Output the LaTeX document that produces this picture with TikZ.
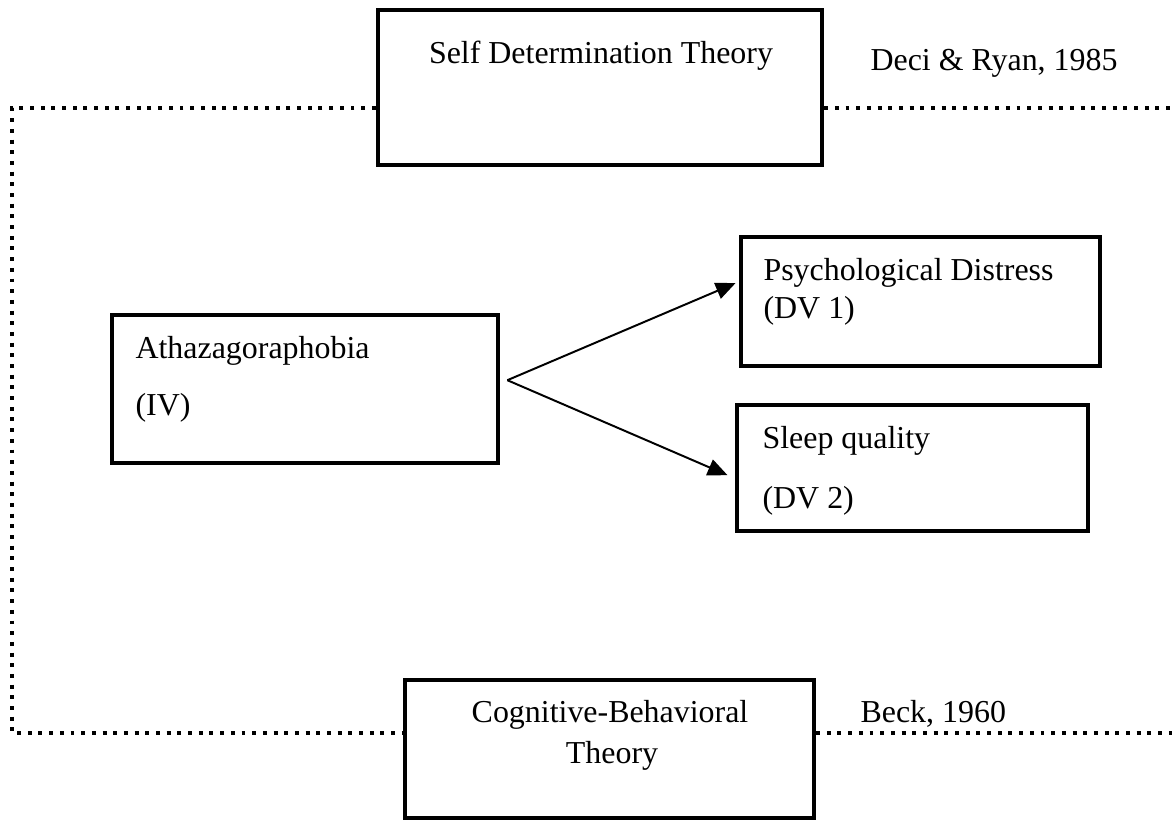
\documentclass[tikz,border=0pt]{standalone}
\usepackage{fontspec}
\setmainfont{Liberation Serif}
\usepackage{tikz}
\usetikzlibrary{arrows.meta}
\tikzstyle{theorybox} = [rectangle, draw=black, line width=1.5pt, inner sep=0pt]
\tikzstyle{txt} = [inner sep=0pt, font=\fontsize{11.35}{14}\selectfont]
\tikzstyle{arrow} = [line width=0.7pt, -{Triangle[length=7pt, width=6pt]}]
\tikzstyle{frame} = [line width=1.4pt, dash pattern=on 1.4pt off 2.4pt]

\begin{document}
\begin{tikzpicture}[x=0.0125cm, y=-0.0125cm]
    \fill[white] (0,0) rectangle (1172,820);
    \useasboundingbox (0,0) rectangle (1172,820);

    %Theory boxes
    \node (SDT) [theorybox, minimum width=5.55cm, minimum height=1.94cm] at (600,87.5) {};
    \node (CBT) [theorybox, minimum width=5.11cm, minimum height=1.725cm] at (609.5,749) {};

    %Variable boxes
    \node (IV) [theorybox, minimum width=4.825cm, minimum height=1.85cm] at (305,389) {};
    \node (DV1) [theorybox, minimum width=4.49cm, minimum height=1.61cm] at (920.5,301.5) {};
    \node (DV2) [theorybox, minimum width=4.39cm, minimum height=1.575cm] at (912.5,468) {};

    %Texts
    \node (SDTtext) [txt, anchor=base] at (601,63) {Self Determination Theory};
    \node (SDTref) [txt, anchor=base west] at (870,70) {Deci \& Ryan, 1985};
    \node (CBTtext) [txt, anchor=base] at (610,722) {Cognitive-Behavioral};
    \node (CBTtext2) [txt, anchor=base] at (612,763) {Theory};
    \node (CBTref) [txt, anchor=base west] at (860,722) {Beck, 1960};
    \node (IVtext) [txt, anchor=base west] at (135,358) {Athazagoraphobia};
    \node (IVtext2) [txt, anchor=base west] at (135,415) {(IV)};
    \node (DV1text) [txt, anchor=base west] at (763,280) {Psychological Distress};
    \node (DV1text2) [txt, anchor=base west] at (763,318) {(DV 1)};
    \node (DV2text) [txt, anchor=base west] at (762,448) {Sleep quality};
    \node (DV2text2) [txt, anchor=base west] at (762,508) {(DV 2)};

    %Arrows from IV
    \coordinate (fork) at ([xshift=0.09cm, yshift=0.11cm]IV.east);
    \draw [arrow] (fork) -- ([xshift=-0.04cm, yshift=0.23cm]DV1.west);
    \draw [arrow] (fork) -- ([xshift=-0.09cm, yshift=-0.09cm]DV2.west);

    %Dotted frame
    \coordinate (topleft) at (12,108);
    \coordinate (botleft) at (12,733);
    \coordinate (topright) at (1172,108);
    \coordinate (botright) at (1172,733);
    \draw [frame] (SDT.west |- topleft) -- (topleft) -- (botleft) -- (CBT.west |- botleft);
    \draw [frame] (SDT.east |- topright) -- (topright);
    \draw [frame] (CBT.east |- botright) -- (botright);

\end{tikzpicture}
\end{document}
